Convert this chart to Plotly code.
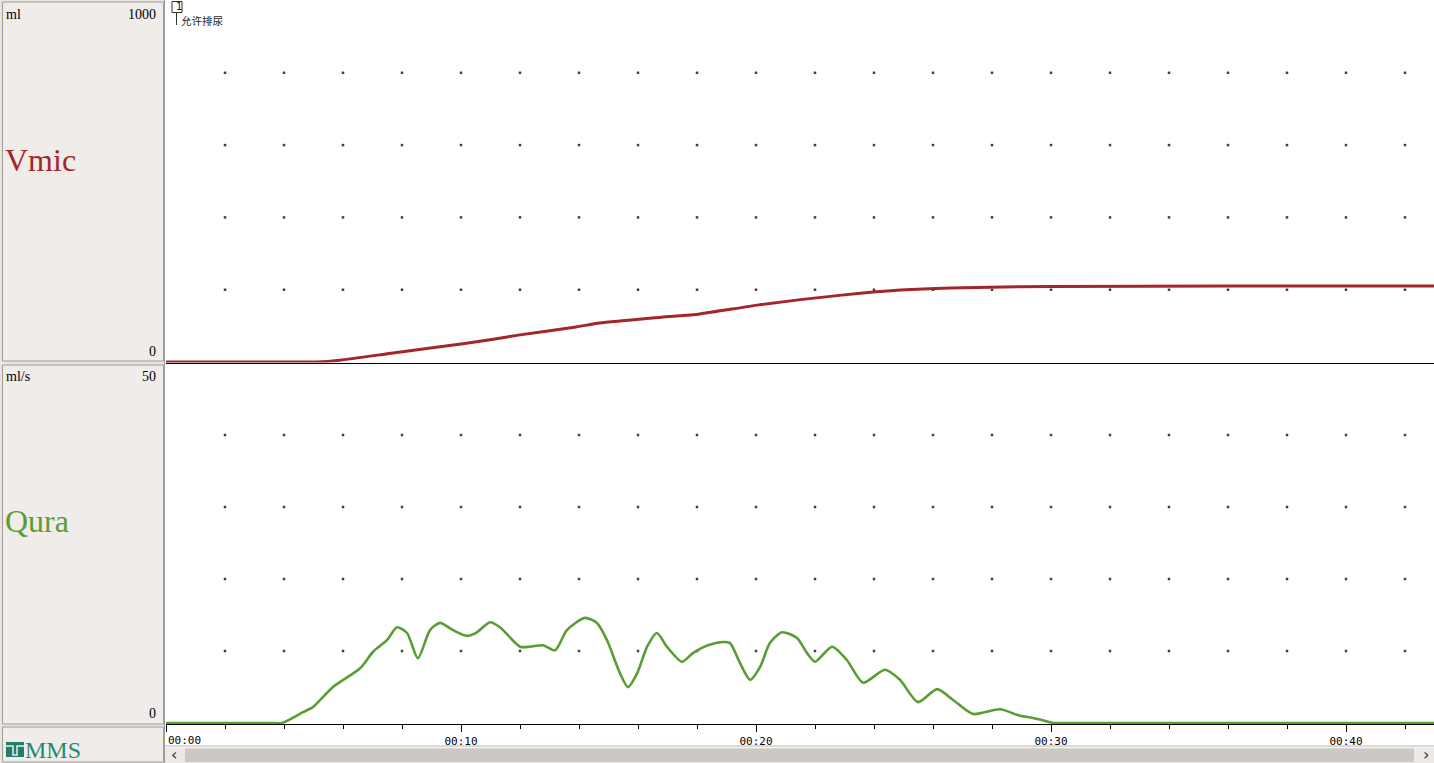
import plotly.graph_objects as go

W, H = 1434, 763

# ---- data ----
vmic_t = [0, 4.8, 5.1, 5.9, 7.7, 10.0, 11.1, 12.0, 13.9, 14.7, 16.8, 18.1, 20.1, 22.9, 24.9, 26.6, 30.0, 36.0, 43.0]
vmic_ml = [0, 0, 0, 5, 25, 50, 63, 75, 97, 108, 124, 133, 158, 185, 199, 205, 209, 210, 210]

qura_t = [0, 2.0, 3.5, 3.93, 4.64, 4.98, 5.66, 6.58, 7.02, 7.49, 7.83, 8.17, 8.54, 8.95, 9.29, 9.73,
          10.20, 10.54, 10.98, 11.32, 12.00, 12.34, 12.78, 13.19, 13.59, 14.20, 14.61,
          14.95, 15.39, 15.66, 15.97, 16.31, 16.64, 16.98, 17.49, 17.86, 18.37, 18.88,
          19.12, 19.46, 19.80, 20.14, 20.47, 20.88, 21.39, 21.73, 22.00, 22.58, 23.08,
          23.63, 24.37, 24.88, 25.49, 26.14, 26.68, 27.36, 28.27, 28.95, 29.39, 29.97,
          30.07, 30.5, 36.0, 43.0]
qura_ml_s = [0, 0, 0, 0, 1.5, 2.2, 5.0, 7.6, 9.9, 11.5, 13.3, 12.5, 9.0, 12.9, 13.9, 12.9,
             12.1, 12.6, 14.0, 13.3, 10.6, 10.6, 10.8, 10.1, 12.9, 14.6, 13.9,
             11.5, 6.9, 5.0, 6.9, 10.6, 12.5, 10.6, 8.5, 9.7, 10.8, 11.25,
             11.1, 8.3, 6.0, 7.8, 11.1, 12.6, 11.8, 9.7, 8.5, 10.6, 8.75,
             5.6, 7.4, 6.0, 2.9, 4.7, 3.2, 1.25, 1.9, 1.0, 0.7, 0.1,
             0, 0, 0, 0]

grid_t = [2, 4, 6, 8, 10, 12, 14, 16, 18, 20, 22, 24, 26, 28, 30, 32, 34, 36, 38, 40, 42]
grid_top = [200, 400, 600, 800]
grid_bottom = [10, 20, 30, 40]

tick_vals = [0, 10, 20, 30, 40]
tick_text = ["", "00:10", "00:20", "00:30", "00:40"]

RED = "#a3262a"
GREEN = "#5a9e33"


def px(x):
    return x / W


def py(y):
    return 1 - y / H


fig = go.Figure()

# dot grids
gx_top = [t for t in grid_t for _ in grid_top]
gy_top = [v for _ in grid_t for v in grid_top]
gx_bot = [t for t in grid_t for _ in grid_bottom]
gy_bot = [v for _ in grid_t for v in grid_bottom]
fig.add_trace(go.Scatter(x=gx_top, y=gy_top, mode="markers", xaxis="x2", yaxis="y2",
                         marker=dict(size=2.5, color="#404040", symbol="square"),
                         hoverinfo="skip", showlegend=False))
fig.add_trace(go.Scatter(x=gx_bot, y=gy_bot, mode="markers", xaxis="x", yaxis="y",
                         marker=dict(size=2.5, color="#404040", symbol="square"),
                         hoverinfo="skip", showlegend=False))

fig.add_trace(go.Scatter(x=vmic_t, y=vmic_ml, mode="lines", xaxis="x2", yaxis="y2",
                         line=dict(color=RED, width=3, shape="spline", smoothing=0.6),
                         showlegend=False))
fig.add_trace(go.Scatter(x=qura_t, y=qura_ml_s, mode="lines", xaxis="x", yaxis="y",
                         line=dict(color=GREEN, width=2.6, shape="spline", smoothing=0.7),
                         showlegend=False))

XMAX = (W - 166) / 29.5
top_scale = 0.3615  # px per ml
bot_scale = 7.2     # px per ml/s

shapes = []
# left panel background
shapes.append(dict(type="rect", xref="paper", yref="paper", x0=0, x1=px(165), y0=0, y1=1,
                   fillcolor="#e8e4e0", line=dict(width=0), layer="below"))
for (ya, yb) in [(2, 361), (365, 724), (727, 762)]:
    shapes.append(dict(type="rect", xref="paper", yref="paper", x0=px(2.5), x1=px(163.5),
                       y0=py(yb), y1=py(ya), fillcolor="#f0ece9",
                       line=dict(color="#a09c98", width=1), layer="below"))
# separator line above scrollbar
shapes.append(dict(type="line", xref="paper", yref="paper", x0=px(165), x1=1,
                   y0=py(746), y1=py(746), line=dict(color="#b8b4b0", width=1)))
# scrollbar
shapes.append(dict(type="rect", xref="paper", yref="paper", x0=px(165), x1=1,
                   y0=py(763), y1=py(747.5), fillcolor="#ece9e6", line=dict(width=0)))
shapes.append(dict(type="rect", xref="paper", yref="paper", x0=px(185), x1=px(1414),
                   y0=py(762), y1=py(748.5), fillcolor="#cdc8c2", line=dict(width=0)))
# vertical border right of left panel
shapes.append(dict(type="line", xref="paper", yref="paper", x0=px(164.5), x1=px(164.5),
                   y0=0, y1=1, line=dict(color="#a09c98", width=1)))
# event marker
shapes.append(dict(type="rect", xref="paper", yref="paper", x0=px(172), x1=px(182),
                   y0=py(12.5), y1=py(1.5), fillcolor="rgba(0,0,0,0)",
                   line=dict(color="#333", width=1)))
shapes.append(dict(type="line", xref="paper", yref="paper", x0=px(176.5), x1=px(176.5),
                   y0=py(25), y1=py(12.5), line=dict(color="#333", width=1)))
# logo icon
shapes.append(dict(type="rect", xref="paper", yref="paper", x0=px(6), x1=px(24),
                   y0=py(757), y1=py(742), fillcolor="#1f7f6f", line=dict(width=0)))
shapes.append(dict(type="path", xref="paper", yref="paper",
                   path=f"M {px(6)},{py(746)} L {px(13)},{py(746)} L {px(13)},{py(755)} "
                        f"L {px(17)},{py(755)} L {px(17)},{py(746)} L {px(24)},{py(746)}",
                   line=dict(color="#f0ece9", width=1.5)))

annotations = []


def txt(x, y, s, size=13, color="black", font="Liberation Serif", anchor="left"):
    annotations.append(dict(xref="paper", yref="paper", x=px(x), y=py(y), text=s,
                            showarrow=False, xanchor=anchor, yanchor="middle",
                            font=dict(size=size, color=color, family=font)))


txt(4, 14, "ml", 14)
txt(158, 14, "1000", 14, anchor="right")
txt(3, 160, "Vmic", 32, RED)
txt(158, 352, "0", 14, anchor="right")
txt(4, 376, "ml/s", 14)
txt(158, 376, "50", 14, anchor="right")
txt(3, 521, "Qura", 32, GREEN)
txt(158, 713, "0", 14, anchor="right")
txt(23, 750, "MMS", 24, "#1f8a78")
txt(173.5, 7, "1", 10, "#222", "DejaVu Sans")
txt(179, 20, "允许排尿", 10.5, "#222", "Noto Sans CJK SC")
txt(169, 754, "‹", 16, "#333", "DejaVu Sans")
txt(1426, 754, "›", 16, "#333", "DejaVu Sans", anchor="center")

annotations.append(dict(xref="x", yref="paper", x=0, y=py(740), text="00:00",
                        showarrow=False, xanchor="left", yanchor="middle",
                        font=dict(size=11, family="DejaVu Sans Mono", color="black")))

fig.update_layout(
    width=W, height=H,
    margin=dict(l=0, r=0, t=0, b=0),
    paper_bgcolor="white", plot_bgcolor="white",
    showlegend=False,
    shapes=shapes,
    annotations=annotations,
    xaxis=dict(domain=[px(166), 1], range=[0, XMAX], anchor="y",
               showgrid=False, zeroline=False, showline=True, linecolor="black", linewidth=1,
               ticks="outside", ticklen=7, tickcolor="black", tickwidth=1,
               tickmode="array", tickvals=tick_vals, ticktext=tick_text,
               tickfont=dict(size=11, family="DejaVu Sans Mono", color="black"),
               minor=dict(tickmode="linear", tick0=0, dtick=2, ticks="outside", ticklen=4,
                          tickcolor="black", showgrid=False)),
    yaxis=dict(domain=[py(724), py(363)], range=[-1 / bot_scale, 360 / bot_scale],
               visible=False, anchor="x"),
    xaxis2=dict(domain=[px(166), 1], range=[0, XMAX], anchor="y2",
                showgrid=False, zeroline=False, showline=True, linecolor="black",
                linewidth=1, showticklabels=False, ticks=""),
    yaxis2=dict(domain=[py(362.5), 1], range=[-0.5 / top_scale, 362 / top_scale],
                visible=False, anchor="x2"),
)

fig.write_html(
    "out.html",
    config={"displayModeBar": False},
    post_script="document.body.style.margin='0px';document.body.style.overflow='hidden';",
)
